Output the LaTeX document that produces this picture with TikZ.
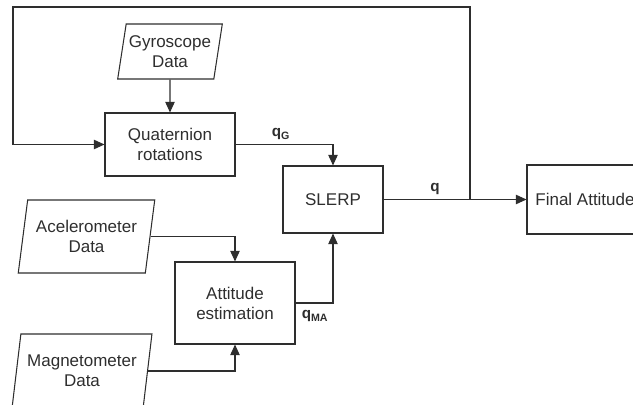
\documentclass[tikz,border=0pt]{standalone}
\usepackage{fontspec}
\setmainfont{Liberation Sans}
\usepackage{tikz}
\usetikzlibrary{shapes,arrows.meta,backgrounds}
\definecolor{dgray}{rgb}{0.18,0.18,0.18}
\pgfdeclarelayer{edgelayer}
\pgfdeclarelayer{nodelayer}
\pgfsetlayers{edgelayer,nodelayer,main}
\tikzstyle{none}=[inner sep=0pt]
\tikzstyle{block}=[rectangle,draw=dgray,line width=0.9pt,align=center,text=dgray,font=\fontsize{14.5}{17}\selectfont]
\tikzstyle{data}=[trapezium,trapezium left angle=76,trapezium right angle=104,trapezium stretches=true,draw=dgray,line width=0.9pt,inner sep=0pt,align=center,text=dgray,font=\fontsize{14.5}{17}\selectfont]
\tikzstyle{inarrow}=[-{Triangle[length=9pt,width=8pt]},draw=dgray,line width=0.9pt]
\tikzstyle{simple}=[-,draw=dgray,line width=0.9pt]
\tikzstyle{qlabel}=[text=dgray,font=\bfseries\fontsize{13}{15}\selectfont]

\begin{document}
\begin{tikzpicture}[x=0.03cm,y=-0.03cm]
	\useasboundingbox (0,0) rectangle (633,405);
	\begin{pgfonlayer}{nodelayer}
		\node [style=data, minimum width=3.15cm, minimum height=1.65cm] (gyro) at (170, 51.5) {Gyroscope\\Data};
		\node [style=block, minimum width=3.9cm, minimum height=1.89cm] (quat) at (170, 144.5) {Quaternion\\rotations};
		\node [style=block, minimum width=3cm, minimum height=2.01cm] (slerp) at (333, 199.5) {SLERP};
		\node [style=block, minimum width=3.48cm, minimum height=2.07cm] (final) at (585, 199.5) {Final Attitude};

		\node [style=data, minimum width=4.14cm, minimum height=2.19cm] (acc) at (86.5, 236.5) {Acelerometer\\Data};
		\node [style=block, minimum width=3.6cm, minimum height=2.46cm] (att) at (235, 303) {Attitude\\estimation};
		\node [style=data, minimum width=4.2cm, minimum height=2.22cm] (mag) at (82, 371) {Magnetometer\\Data};

		\node [style=none] (split) at (470, 199.5) {};
		\node [style=none] (fbtl) at (13, 7) {};

		\node [style=qlabel] (qG) at (281, 134) {q\textsubscript{G}};
		\node [style=qlabel] (q) at (435, 189) {q};
		\node [style=qlabel] (qMA) at (315, 316) {q\textsubscript{MA}};
	\end{pgfonlayer}
	\begin{pgfonlayer}{edgelayer}
		\draw [style=inarrow] (gyro.south) to (quat.north);
		\draw [style=inarrow] (quat.east) -| (slerp.north);
		\draw [style=inarrow] (acc.east) -| (att.north);
		\draw [style=inarrow] (mag.east) -| (att.south);
		\draw [style=inarrow] (att.east) -| (slerp.south);
		\draw [style=inarrow] (slerp.east) to (final.west);
		\draw [style=inarrow] (split.center) |- (fbtl.center) |- (quat.west);
	\end{pgfonlayer}
\end{tikzpicture}
\end{document}
